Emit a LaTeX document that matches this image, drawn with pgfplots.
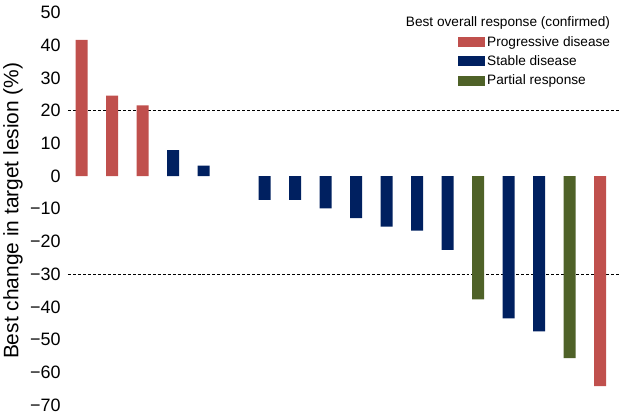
\documentclass[border=0pt]{standalone}
\usepackage{pgfplots}
\pgfplotsset{compat=1.18}
\usepackage{fontspec}
\setmainfont{Liberation Sans}
\definecolor{pdred}{HTML}{C0504D}
\definecolor{sdblue}{HTML}{002060}
\definecolor{prgreen}{HTML}{4F6228}
\begin{document}
\begin{tikzpicture}
\begin{axis}[
  scale only axis,
  width=552bp, height=392.5bp,
  xmin=0.55, xmax=18.65,
  ymin=-70, ymax=50,
  axis x line=none,
  axis y line*=left,
  y axis line style={draw=none},
  clip=false,
  ybar, bar width=12bp, bar shift=0pt,
  ytick={-70,-60,...,50},
  yticklabels={−70,−60,−50,−40,−30,−20,−10,0,10,20,30,40,50},
  y tick label style={font=\fontsize{18}{20}\selectfont, anchor=east, xshift=-4bp},
  xtick=\empty,
  major tick length=0pt,
  ylabel={Best change in target lesion (\%)},
  every axis y label/.style={at={(rel axis cs:0,0.495)}, xshift=-55bp, rotate=90, anchor=center, font=\fontsize{21}{24}\selectfont},
  legend style={at={(rel axis cs:0.7065,0.945)}, anchor=north west, draw=none, fill=none,
    font=\fontsize{13.7}{15}\selectfont, row sep=4bp, inner sep=0pt,
    /tikz/every even column/.append style={column sep=5bp}},
  legend cell align=left,
  legend image code/.code={\fill[#1] (0bp,-5bp) rectangle (27bp,5bp);},
]
\draw[densely dashed, black, line width=0.5pt] (axis cs:0.55,20) -- (axis cs:18.65,20);
\draw[densely dashed, black, line width=0.5pt] (axis cs:0.55,-30) -- (axis cs:18.65,-30);
\addplot[fill=pdred, draw=none] coordinates {(1,41.6) (2,24.6) (3,21.6) (18,-64.2)};
\addlegendentry{Progressive disease}
\addplot[fill=sdblue, draw=none] coordinates {(4,7.9) (5,3.2) (7,-7.3) (8,-7.3) (9,-9.9) (10,-12.9) (11,-15.5) (12,-16.7) (13,-22.6) (15,-43.5) (16,-47.5)};
\addlegendentry{Stable disease}
\addplot[fill=prgreen, draw=none] coordinates {(14,-37.7) (17,-55.7)};
\addlegendentry{Partial response}
\node[anchor=base east, font=\fontsize{13.7}{15}\selectfont] at (rel axis cs:0.9882,0.964) {Best overall response (confirmed)};
\end{axis}
\pgfresetboundingbox
\path[use as bounding box] ([xshift=-68bp,yshift=-11bp]current axis.south west) rectangle ([yshift=12.5bp]current axis.north east);
\end{tikzpicture}
\end{document}
